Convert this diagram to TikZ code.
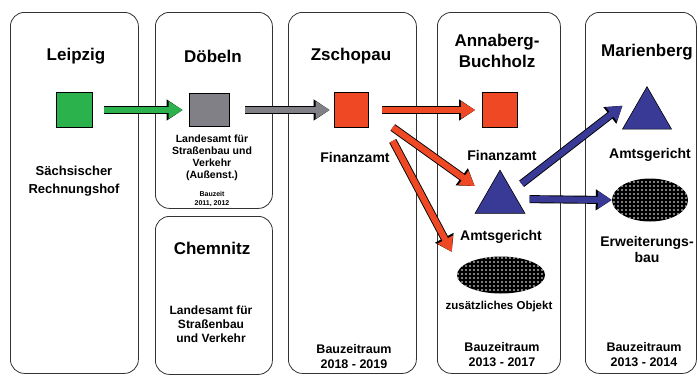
\documentclass[tikz,border=0pt]{standalone}
\usepackage{fontspec}
\setmainfont{Liberation Sans}
\usetikzlibrary{arrows.meta,shapes.geometric,patterns}

\definecolor{gruen}{RGB}{43,178,76}
\definecolor{grau}{RGB}{128,128,134}
\definecolor{rot}{RGB}{238,72,36}
\definecolor{blau}{RGB}{56,58,150}

% Punktraster fuer die Ovale
\pgfdeclarepatternformonly{rasterpunkte}{\pgfpoint{-1pt}{-1pt}}{\pgfpoint{5pt}{5pt}}{\pgfpoint{4pt}{4pt}}%
  {\pgfpathcircle{\pgfpoint{2pt}{2pt}}{0.8pt}\pgfusepath{fill}}

\begin{document}
\begin{tikzpicture}[x=1pt,y=-1pt,
    standort/.style={draw=black!80,line width=0.8pt,rounded corners=14pt,anchor=north west,inner sep=0pt},
    titel/.style={font=\fontsize{17}{21}\selectfont\bfseries,align=center},
    beschr/.style={font=\fontsize{14}{16}\selectfont\bfseries,align=center},
    zeit/.style={font=\fontsize{12.5}{15}\selectfont\bfseries,align=center},
    quadrat/.style={draw=black,line width=0.7pt,minimum width=#1,minimum height=35pt,inner sep=0pt},
    dreieck/.style={regular polygon,regular polygon sides=3,draw=black,fill=blau,line width=0.6pt,minimum size=#1,inner sep=0pt,outer sep=0pt},
    oval/.style={ellipse,fill=black,postaction={pattern=rasterpunkte,pattern color=white},inner sep=0pt},
    pfeil/.style={draw=black,line width=8pt,-{Triangle[length=16pt,width=20pt]},
      postaction={draw=#1,line width=6.2pt,-{Triangle[length=14pt,width=16.6pt]}}}]
  \useasboundingbox (0,0) rectangle (698,376);

  % Rahmen
  \node[standort,minimum width=128pt,minimum height=361pt] (leipbox) at (10,12) {};
  \node[standort,minimum width=117pt,minimum height=196pt] (doebbox) at (155,12) {};
  \node[standort,minimum width=117pt,minimum height=158pt] (chembox) at (155,216) {};
  \node[standort,minimum width=128pt,minimum height=361pt] (zschbox) at (288,12) {};
  \node[standort,minimum width=123pt,minimum height=361pt] (annbox) at (437,12) {};
  \node[standort,minimum width=111pt,minimum height=361pt] (marbox) at (585,12) {};

  % Leipzig
  \node[titel] (leiptitel) at (76,56) {Leipzig};
  \node[quadrat=36pt,fill=gruen] (leipsq) at (74,110) {};
  \node[font=\fontsize{13}{18}\selectfont\bfseries,align=center] (leiptext) at (74,181) {Sächsischer\\Rechnungshof};

  % Döbeln
  \node[titel] (doebtitel) at (213,56) {Döbeln};
  \node[quadrat=40pt,minimum height=33pt,fill=grau] (doebsq) at (209,110) {};
  \node[font=\fontsize{10.5}{12}\selectfont\bfseries,align=center] (doebtext) at (212,158) {Landesamt für\\Straßenbau und\\Verkehr\\(Außenst.)};
  \node[font=\fontsize{7}{9}\selectfont\bfseries,align=center] (doebzeit) at (212,199) {Bauzeit\\2011, 2012};

  % Chemnitz
  \node[titel] (chemtitel) at (212,248) {Chemnitz};
  \node[font=\fontsize{12}{14}\selectfont\bfseries,align=center] (chemtext) at (211,324) {Landesamt für\\Straßenbau\\und Verkehr};

  % Zschopau
  \node[titel] (zschtitel) at (351,56) {Zschopau};
  \node[quadrat=34pt,fill=rot] (zschsq) at (351,110) {};
  \node[beschr] (zschfa) at (355,157) {Finanzamt};
  \node[zeit] (zschzeit) at (354,357) {Bauzeitraum\\2018 - 2019};

  % Annaberg-Buchholz
  \node[titel] (anntitel) at (497,51) {Annaberg-\\Buchholz};
  \node[quadrat=35pt,fill=rot] (annsq) at (500,110) {};
  \node[beschr] (annfa) at (502,155) {Finanzamt};
  \node[dreieck=57.7pt] (anntri) at (500,199) {};
  \node[beschr] (annag) at (501,237) {Amtsgericht};
  \node[oval,minimum width=88pt,minimum height=37pt] (annell) at (501,275) {};
  \node[font=\fontsize{11.5}{13}\selectfont\bfseries] (annobj) at (499,307) {zusätzliches Objekt};
  \node[zeit] (annzeit) at (502,355) {Bauzeitraum\\2013 - 2017};

  % Marienberg
  \node[titel] (martitel) at (647,52) {Marienberg};
  \node[dreieck=56.6pt] (martri) at (647,115) {};
  \node[beschr] (marag) at (650,155) {Amtsgericht};
  \node[oval,minimum width=76pt,minimum height=43pt] (marell) at (650,200) {};
  \node[beschr] (marerw) at (647,249) {Erweiterungs-\\bau};
  \node[zeit] (marzeit) at (644,355) {Bauzeitraum\\2013 - 2014};

  % Pfeile
  \draw[pfeil=gruen,shorten <=12pt,shorten >=6pt] (leipsq) -- (doebsq);
  \draw[pfeil=grau,shorten <=16pt,shorten >=4pt] (doebsq) -- (zschsq);
  \draw[pfeil=rot,shorten <=14pt,shorten >=7pt] (zschsq) -- (annsq);
  \draw[pfeil=rot,shorten <=30pt,shorten >=14pt] (zschsq.east) -- (anntri.161);
  \draw[pfeil=rot,shorten <=35pt,shorten >=18pt] ([xshift=8pt]zschsq.east) -- (annell.170);
  \draw[pfeil=blau,shorten <=12pt,shorten >=31pt] (anntri.33) -- (martri.corner 1);
  \draw[pfeil=blau,shorten <=13pt,shorten >=0pt] (anntri.east) -- (marell.west);
\end{tikzpicture}
\end{document}
